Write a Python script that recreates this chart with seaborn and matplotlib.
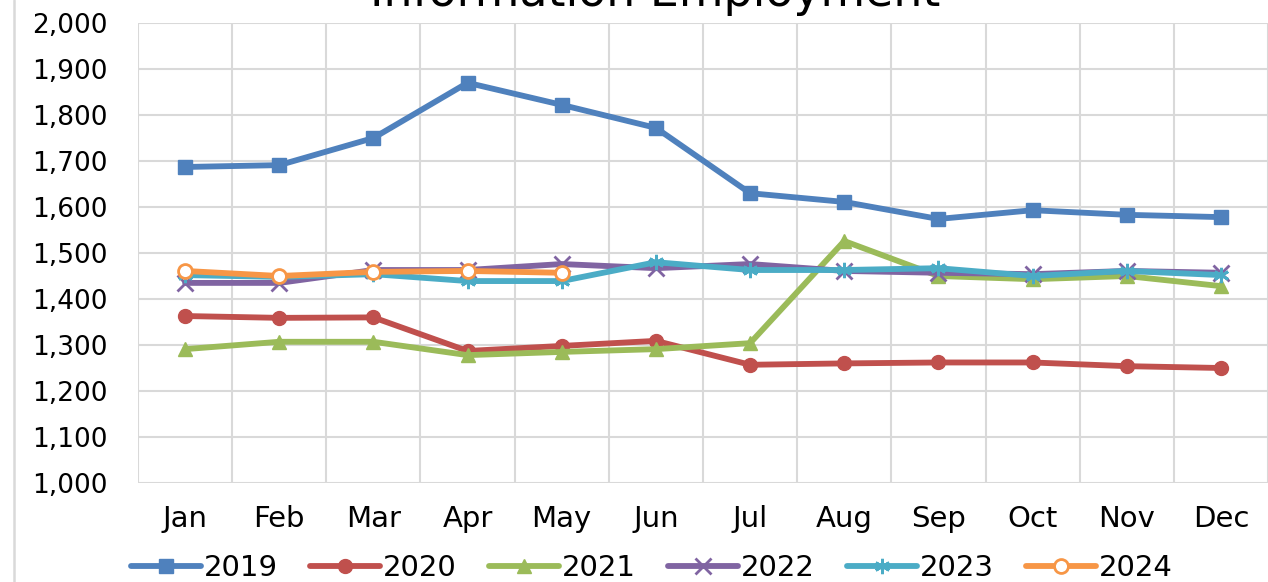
import matplotlib
matplotlib.use("Agg")
import matplotlib.pyplot as plt
import seaborn as sns
import pandas as pd
from matplotlib.lines import Line2D

months = ["Jan", "Feb", "Mar", "Apr", "May", "Jun", "Jul", "Aug", "Sep", "Oct", "Nov", "Dec"]
y2019 = [1687, 1691, 1750, 1870, 1822, 1772, 1630, 1611, 1574, 1593, 1583, 1578]
y2020 = [1363, 1359, 1360, 1287, 1298, 1309, 1257, 1260, 1262, 1262, 1254, 1250]
y2021 = [1291, 1307, 1307, 1278, 1285, 1291, 1304, 1526, 1450, 1443, 1450, 1428]
y2022 = [1435, 1435, 1463, 1463, 1476, 1467, 1476, 1461, 1457, 1454, 1461, 1457]
y2023 = [1452, 1448, 1454, 1439, 1439, 1480, 1463, 1463, 1467, 1450, 1461, 1452]
y2024 = [1461, 1450, 1459, 1461, 1457]

series = {"2019": y2019, "2020": y2020, "2021": y2021,
          "2022": y2022, "2023": y2023, "2024": y2024}
colors = {"2019": "#4F81BD", "2020": "#C0504D", "2021": "#9BBB59",
          "2022": "#8064A2", "2023": "#4BACC6", "2024": "#F79646"}
markers = {"2019": "s", "2020": "o", "2021": "^", "2022": "x",
           "2023": (6, 2, 0), "2024": "o"}

sns.set_theme(style="white")
plt.rcParams["font.family"] = ["DejaVu Sans"]
plt.rcParams["text.color"] = "black"
plt.rcParams["xtick.color"] = "black"
plt.rcParams["ytick.color"] = "black"

fig = plt.figure(figsize=(12.68, 5.82), dpi=100)
ax = fig.add_axes([138 / 1268, 1 - 483 / 582, 1 - 138 / 1268, (483 - 23) / 582])

LW = 4.2


def mstyle(name):
    mk = markers[name]
    is24 = name == "2024"
    if mk in ("x", (6, 2, 0)):
        return dict(marker=mk, markersize=11, markerfacecolor=colors[name],
                    markeredgecolor=colors[name], markeredgewidth=2.0)
    if is24:
        return dict(marker=mk, markersize=10, markerfacecolor="white",
                    markeredgecolor=colors[name], markeredgewidth=2.0)
    return dict(marker=mk, markersize=10, markerfacecolor=colors[name],
                markeredgecolor=colors[name], markeredgewidth=1.0)


for name, vals in series.items():
    df = pd.DataFrame({"x": list(range(len(vals))), "y": vals})
    sns.lineplot(data=df, x="x", y="y", ax=ax, color=colors[name], linewidth=LW,
                 label=name, legend=False, zorder=3, **mstyle(name))

ax.set_xlim(-0.5, 11.5)
ax.set_ylim(1000, 2000)
ax.set_xticks(range(12))
ax.set_xticklabels(months)
ax.set_xticks([i + 0.5 for i in range(-1, 12)], minor=True)
ax.set_yticks(range(1000, 2001, 100))
ax.set_yticklabels([f"{v:,}" for v in range(1000, 2001, 100)])
ax.grid(True, axis="y", which="major", color="#d9d9d9", linewidth=1.5)
ax.grid(True, axis="x", which="minor", color="#d9d9d9", linewidth=1.5)
ax.grid(False, axis="x", which="major")
ax.set_axisbelow(True)
for s in ax.spines.values():
    s.set_visible(False)
ax.tick_params(axis="both", which="both", length=0, colors="black")
ax.tick_params(axis="x", labelsize=21, pad=16)
ax.tick_params(axis="y", labelsize=19, pad=22)
ax.set_xlabel("")
ax.set_ylabel("")

fig.text(655 / 1268, 1 - 6 / 582, "Information Employment", ha="center", va="baseline",
         fontsize=33, color="black")

handles = [Line2D([0], [0], color=colors[n], linewidth=LW, label=n, **mstyle(n))
           for n in series]
fig.legend(handles=handles, loc="center", bbox_to_anchor=(652 / 1268, 1 - 568 / 582),
           ncol=6, frameon=False, fontsize=21, handlelength=2.4, columnspacing=1.1,
           handletextpad=0.1, borderaxespad=0, borderpad=0)

fig.add_artist(Line2D([14 / 1268, 14 / 1268], [0, 1], color="#d9d9d9", linewidth=1.8,
                      transform=fig.transFigure))

fig.savefig("out.png", dpi=100)
